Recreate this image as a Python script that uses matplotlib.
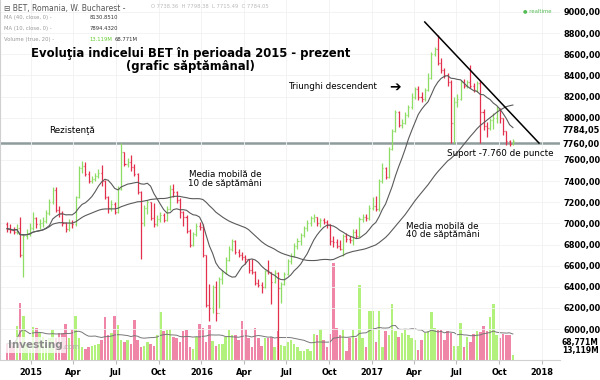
import matplotlib
matplotlib.use("Agg")
import matplotlib.pyplot as plt
import matplotlib.dates as mdates
import matplotlib.font_manager as fm
from matplotlib.ticker import FuncFormatter, FixedLocator
import matplotlib.transforms as mtransforms
import numpy as np
import pandas as pd

# ── date (săptămânal, BET) ──────────────────────────────────────────────
START_WEEK = "2014-11-10"
FIRST_OPEN = 6990

CLOSE = [
    6950, 6940, 6920, 6960, 6700, 6880, 6900, 6960, 7050, 6990,
    7000, 7020, 7100, 7200, 7320, 7130, 7100, 7000, 6950, 7000,
    6990, 7250, 7520, 7540, 7470, 7400, 7420, 7450, 7480, 7400,
    7250, 7150, 7180, 7110, 7330, 7680, 7560, 7580, 7530, 7470,
    7300, 7000, 7150, 7200, 7050, 6990, 7040, 7080, 7030, 7140,
    7330, 7300, 7220, 7110, 7060, 6930, 6800, 6900, 6980, 6970,
    6700, 6230, 6200, 6400, 6150, 6470, 6530, 6650, 6760, 6830,
    6730, 6700, 6680, 6660, 6560, 6540, 6440, 6420, 6400, 6550,
    6540, 6450, 6530, 6390, 6430, 6520, 6640, 6690, 6790, 6830,
    6890, 6960, 7000, 7050, 7060, 7000, 7030, 7010, 6990, 6830,
    6820, 6790, 6760, 6880, 6850, 6840, 6920, 6880, 7040, 7060,
    7050, 7150, 7160, 7140, 7400, 7520, 7440, 7700, 7870, 8050,
    7930, 7950, 8030, 8100, 8200, 8270, 8200, 8180, 8260, 8380,
    8600, 8650, 8520, 8450, 8400, 8340, 7950, 8150, 8180, 8340,
    8300, 8340, 8300, 8260, 8330, 8050, 7920, 7900, 7980, 8000,
    8080, 8000, 7870, 7780, 7750, 7784.05,
]
HIGH = [
    7010, 6990, 6970, 6990, 7060, 6900, 6950, 7000, 7110, 7060,
    7040, 7060, 7130, 7230, 7340, 7340, 7160, 7120, 7010, 7040,
    7030, 7260, 7540, 7590, 7580, 7500, 7450, 7480, 7510, 7550,
    7410, 7260, 7220, 7200, 7350, 7760, 7680, 7620, 7650, 7560,
    7480, 7310, 7170, 7220, 7200, 7190, 7080, 7110, 7100, 7160,
    7360, 7370, 7310, 7240, 7120, 7080, 6950, 6920, 7000, 7010,
    6990, 6700, 6430, 6420, 6460, 6490, 6560, 6680, 6790, 6850,
    6840, 6760, 6730, 6700, 6660, 6660, 6550, 6470, 6450, 6560,
    6650, 6540, 6560, 6540, 6450, 6540, 6660, 6720, 6810, 6860,
    6910, 6980, 7030, 7070, 7090, 7060, 7050, 7050, 7030, 6990,
    6880, 6850, 6840, 6900, 6910, 6880, 6950, 6950, 7060, 7090,
    7090, 7170, 7250, 7260, 7420, 7570, 7530, 7720, 7890, 8070,
    8060, 7990, 8050, 8120, 8230, 8290, 8300, 8240, 8280, 8420,
    8620, 8670, 8780, 8560, 8470, 8420, 8360, 8200, 8220, 8360,
    8370, 8360, 8500, 8330, 8350, 8360, 8080, 7960, 8000, 8040,
    8110, 8090, 8000, 7870, 7790, 7800,
]
LOW = [
    6920, 6910, 6900, 6900, 6680, 6490, 6850, 6880, 6940, 6960,
    6950, 6970, 7000, 7080, 7180, 7110, 7060, 6980, 6920, 6930,
    6960, 6980, 7240, 7480, 7450, 7380, 7380, 7400, 7430, 7350,
    7230, 7100, 7120, 7090, 7100, 7320, 7540, 7530, 7500, 7450,
    7280, 6660, 6980, 7090, 7030, 6970, 6980, 7010, 7010, 7020,
    7130, 7250, 7190, 7050, 6980, 6910, 6780, 6790, 6880, 6940,
    6680, 6210, 6080, 6150, 6080, 6200, 6430, 6520, 6640, 6740,
    6710, 6680, 6650, 6620, 6530, 6520, 6420, 6400, 6340, 6390,
    6520, 6240, 6440, 5600, 6250, 6420, 6510, 6620, 6680, 6760,
    6800, 6870, 6930, 6980, 7010, 6980, 6970, 6990, 6960, 6800,
    6780, 6770, 6750, 6690, 6820, 6810, 6800, 6860, 6870, 7010,
    7020, 7030, 7130, 7120, 7120, 7380, 7420, 7430, 7690, 7860,
    7910, 7900, 7940, 8010, 8080, 8180, 8170, 8150, 8160, 8250,
    8370, 8580, 8500, 8420, 8380, 8300, 7760, 7760, 8100, 8170,
    8280, 8280, 8280, 8240, 8240, 7760, 7880, 7820, 7880, 7890,
    7950, 7950, 7840, 7740, 7730, 7740,
]
VOLUME_M = [
    45, 50, 40, 95, 157, 123, 45, 30, 92, 90,
    75, 65, 45, 62, 83, 60, 75, 75, 100, 60,
    85, 122, 62, 35, 30, 35, 40, 42, 45, 55,
    120, 70, 75, 122, 98, 55, 50, 55, 45, 112,
    55, 35, 40, 50, 45, 40, 70, 132, 80, 83,
    85, 65, 60, 50, 80, 82, 35, 30, 65, 100,
    90, 50, 98, 52, 40, 45, 45, 65, 82, 70,
    70, 55, 107, 85, 60, 35, 88, 60, 40, 62,
    60, 65, 35, 80, 42, 40, 50, 55, 45, 35,
    25, 25, 30, 25, 72, 70, 85, 55, 35, 72,
    270, 90, 70, 82, 25, 60, 82, 60, 208, 60,
    35, 135, 135, 50, 135, 35, 80, 70, 155, 80,
    65, 75, 85, 70, 60, 55, 28, 55, 75, 80,
    132, 90, 82, 82, 55, 80, 75, 40, 40, 102,
    35, 65, 50, 72, 80, 78, 95, 80, 120, 155,
    70, 62, 72, 70, 70, 13.119,
]

# 7800 lipseşte pe axă (ascuns de etichetele 7784/7760)
PRICE_TICKS = [6000, 6200, 6400, 6600, 6800, 7000, 7200, 7400, 7600,
               8000, 8200, 8400, 8600, 8800, 9000]
SUPPORT = 7760
LAST_PRICE = 7784.05
VOL_MA_LAST = 68.771
VOL_LAST = 13.119
TREND_START = ("2017-04-24", 8905)
TREND_END = ("2017-12-25", 7760)

# ── culori ──────────────────────────────────────────────────────────────
UP = "#8ddc63"
DOWN = "#e2304c"
VOL_UP = "#aef174"
VOL_DOWN = "#ef7ea2"
MA_COL = "#5a5a5a"

# font îngust pentru axe (dacă există)
_names = {f.name for f in fm.fontManager.ttflist}
if "Liberation Sans Narrow" in _names:
    AXIS_FONT = dict(family="Liberation Sans Narrow", fontweight="bold", fontsize=8.3)
else:
    AXIS_FONT = dict(family="DejaVu Sans", fontstretch="condensed", fontweight="bold", fontsize=6.6)
VOL_FONT = dict(AXIS_FONT, fontsize=AXIS_FONT["fontsize"] * 0.92)

dates = pd.date_range(START_WEEK, periods=len(CLOSE), freq="7D")
x = mdates.date2num(dates)
close = np.array(CLOSE, dtype=float)
opens = np.concatenate([[FIRST_OPEN], close[:-1]])
up = close >= opens

ma10 = pd.Series(close).rolling(10, min_periods=1).mean()
ma40 = pd.Series(close).rolling(40, min_periods=1).mean()
vol_ma = pd.Series(VOLUME_M).rolling(20, min_periods=1).mean()

fig = plt.figure(figsize=(6, 3.8), dpi=100)
ax = fig.add_axes([0.0, 0.0526, 0.9333, 0.9474])
axv = ax.twinx()
ax.set_zorder(axv.get_zorder() + 1)
ax.patch.set_visible(False)
axv.patch.set_facecolor("white")

# volum
vcol = [VOL_UP if u else VOL_DOWN for u in up]
axv.bar(x, VOLUME_M, width=5.4, color=vcol, alpha=0.95, linewidth=0)
axv.plot(x, vol_ma, color="#777777", lw=0.7)
axv.set_ylim(0, 1000)
axv.set_yticks([])
for s in axv.spines.values():
    s.set_visible(False)

# bare OHLC
cols = np.where(up, UP, DOWN)
ax.vlines(x, LOW, HIGH, colors=cols, lw=0.9)
ax.hlines(opens, x - 2.2, x, colors=cols, lw=0.9)
ax.hlines(close, x, x + 2.2, colors=cols, lw=0.9)

ax.plot(x, ma10, color=MA_COL, lw=0.8)
ax.plot(x, ma40, color=MA_COL, lw=0.8)

# suport / rezistenţă + triunghi
ax.axhline(SUPPORT, color="#8f9c9c", lw=1.8, zorder=1)
tx = mdates.date2num(pd.to_datetime([TREND_START[0], TREND_END[0]]))
ax.plot(tx, [TREND_START[1], TREND_END[1]], color="black", lw=1.1)

ax.set_xlim(x[0] - 15, x[0] + 1186)
ax.set_ylim(5708, 9113)

# axe
ax.yaxis.tick_right()
ax.yaxis.set_major_locator(FixedLocator(PRICE_TICKS))
ax.yaxis.set_major_formatter(FuncFormatter(lambda v, p: f"{v:.2f}".replace(".", ",")))
ax.tick_params(axis="y", length=0, pad=2.5)
for lab in ax.get_yticklabels():
    lab.update(AXIS_FONT)

ax.xaxis.set_major_locator(mdates.MonthLocator(bymonth=[1, 4, 7, 10]))
ax.xaxis.set_major_formatter(FuncFormatter(
    lambda v, p: mdates.num2date(v).strftime("%Y") if mdates.num2date(v).month == 1
    else mdates.num2date(v).strftime("%b")))
ax.tick_params(axis="x", length=3, color="#bbbbbb", pad=3)
for lab in ax.get_xticklabels():
    lab.update(AXIS_FONT)
ax.grid(True, color="#f1f1f1", lw=0.6)
for name, s in ax.spines.items():
    s.set_visible(name in ("bottom", "left"))
    s.set_color("#d0d0d0")

# etichete preţ curent / volum curent
blend = mtransforms.blended_transform_factory(ax.transAxes, ax.transData)
ax.text(1.005, 7880, f"{LAST_PRICE:.2f}".replace(".", ","), transform=blend,
        va="center", ha="left", **AXIS_FONT)
ax.text(1.005, SUPPORT - 15, f"{SUPPORT:.2f}".replace(".", ","), transform=blend,
        va="center", ha="left", **AXIS_FONT)
ta = ax.transAxes
ax.text(1.003, 0.05, f"{VOL_MA_LAST:.3f}M".replace(".", ","), transform=ta,
        va="center", ha="left", **VOL_FONT)
ax.text(1.003, 0.026, f"{VOL_LAST:.3f}M".replace(".", ","), transform=ta,
        va="center", ha="left", **VOL_FONT)

# antet
ax.text(0.008, 0.988, "\u229f BET, Romania, W. Bucharest -", transform=ta,
        fontsize=5.5, color="#555555", va="top")
ax.text(0.27, 0.988, "O 7738.36  H 7798.38  L 7715.49  C 7784.05", transform=ta,
        fontsize=3.8, color="#bbbbbb", va="top")
for k, (lbl, val) in enumerate([("MA (40, close, 0) -", "8130.8510"),
                                 ("MA (10, close, 0) -", "7894.4320")]):
    yy = 0.958 - k * 0.03
    ax.text(0.008, yy, lbl, transform=ta, fontsize=3.8, color="#999999", va="top")
    ax.text(0.16, yy, val, transform=ta, fontsize=3.8, color="#333333", va="top")
ax.text(0.008, 0.898, "Volume (true, 20) -", transform=ta, fontsize=3.8, color="#999999", va="top")
ax.text(0.16, 0.898, "13.119M", transform=ta, fontsize=3.8, color="#66cc33", va="top")
ax.text(0.205, 0.898, "68.771M", transform=ta, fontsize=3.8, color="#333333", va="top")
ax.text(0.96, 0.978, "\u25cf realtime", transform=ta, fontsize=3.8, color="#55bb55",
        va="top", ha="center")

# titlu
ax.text(0.34, 0.833, "Evoluţia indicelui BET în perioada 2015 - prezent\n(grafic săptămânal)",
        transform=ta, ha="center", va="center", fontsize=8.4, fontweight="bold",
        linespacing=0.95)

# adnotări
ax.text(0.129, 0.637, "Rezistenţă", transform=ta, ha="center", va="center", fontsize=6.3)
ax.text(0.594, 0.76, "Triunghi descendent", transform=ta, ha="center", va="center", fontsize=6.3)
ax.text(0.705, 0.76, "\u2794", transform=ta, ha="center", va="center", fontsize=10,
        fontweight="bold")
ax.text(0.893, 0.574, "Suport -7.760 de puncte", transform=ta, ha="center", va="center",
        fontsize=6.3)
ax.text(0.402, 0.503, "Media mobilă de\n10 de săptămâni", transform=ta, ha="center",
        va="center", fontsize=6.3, linespacing=0.95)
ax.text(0.79, 0.36, "Media mobilă de\n40 de săptămâni", transform=ta, ha="center",
        va="center", fontsize=6.3, linespacing=0.95)

# logo
ax.text(0.015, 0.028, "Investing", transform=ta, fontsize=7.5, fontweight="bold",
        color="#8a8a8a", va="bottom",
        bbox=dict(boxstyle="square,pad=0.25", fc="white", ec="none", alpha=0.75))
ax.text(0.112, 0.028, ".com", transform=ta, fontsize=5, color="#b0b0b0", va="bottom")

fig.savefig("out.png", dpi=100)
